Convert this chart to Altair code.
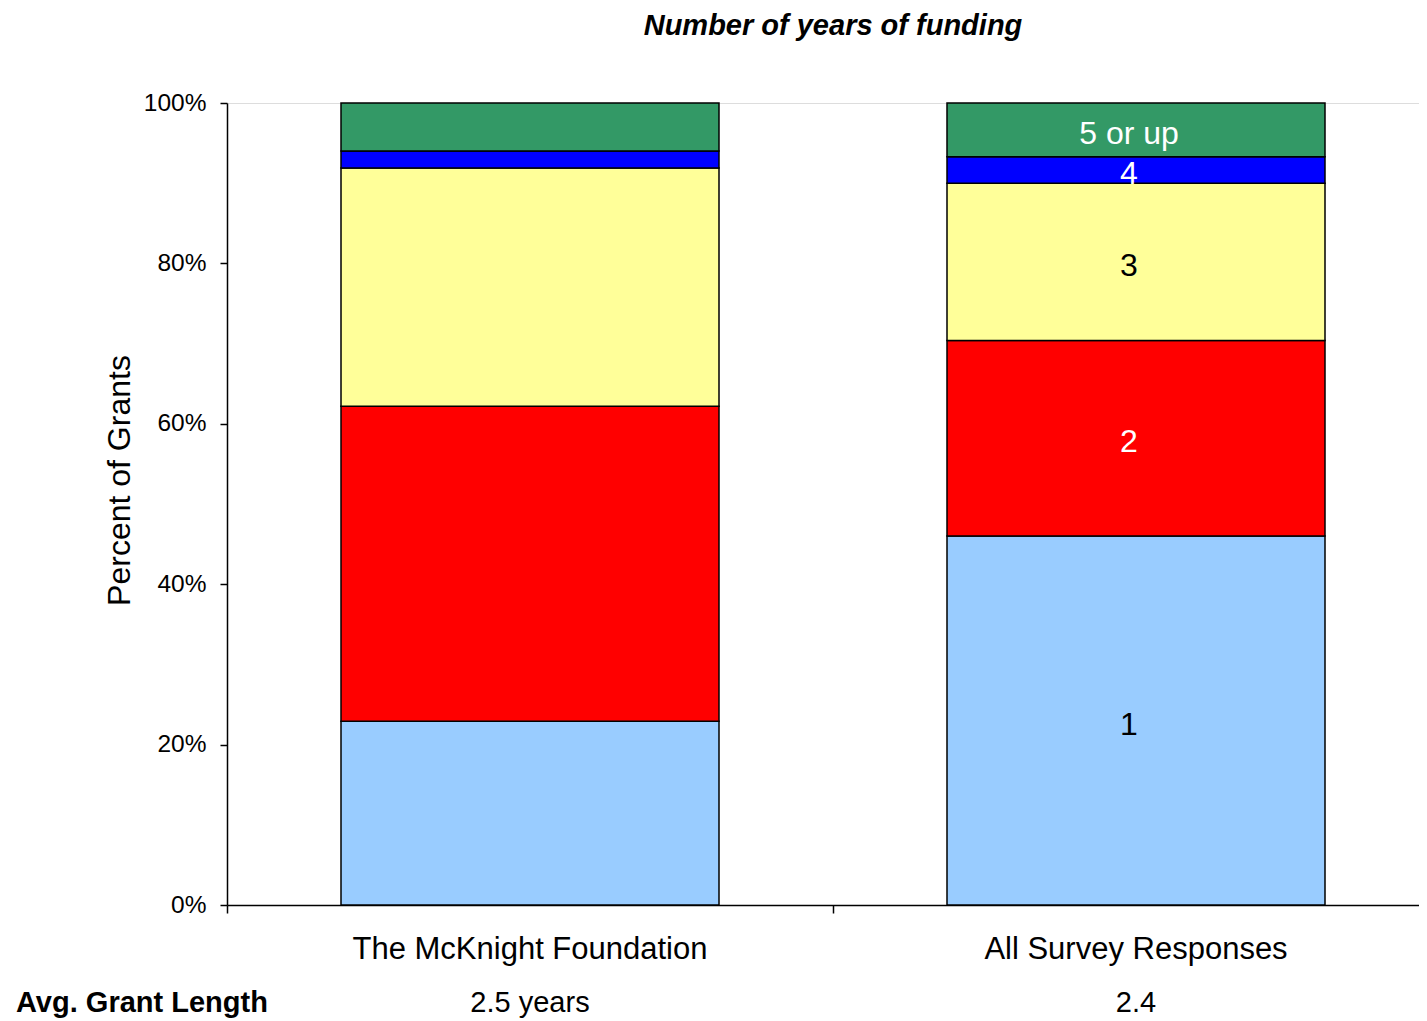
import altair as alt
import pandas as pd

categories = ["The McKnight Foundation", "All Survey Responses"]
series = ["1", "2", "3", "4", "5 or up"]
mcknight = [22.9, 39.3, 29.7, 2.1, 6.0]
all_survey = [46.0, 24.4, 19.6, 3.3, 6.7]
colors = ["#99CCFF", "#FF0000", "#FFFF99", "#0000FF", "#339966"]
label_colors = ["black", "white", "black", "white", "white"]
avg_lengths = ["2.5 years", "2.4"]
row_label = "Avg. Grant Length"

rows = []
for cat, vals in zip(categories, [mcknight, all_survey]):
    lo = 0.0
    for i, (s, v) in enumerate(zip(series, vals)):
        rows.append({"cat": cat, "series": s, "idx": i, "lo": lo, "hi": lo + v,
                     "mid": lo + v / 2, "lcolor": label_colors[i]})
        lo += v
df = pd.DataFrame(rows)

W, H = 1192, 802
FONT = "Liberation Sans"

xscale = alt.Scale(domain=categories, range=[0, 1212], paddingInner=0, paddingOuter=0)

bars = alt.Chart(df).mark_bar(size=378, stroke="black", strokeWidth=1.5).encode(
    x=alt.X("cat:N", sort=categories, scale=xscale,
            axis=alt.Axis(title=None, labels=False, ticks=True, tickSize=8, bandPosition=0,
                          domainColor="black", domainWidth=1.5, tickColor="black", tickWidth=1.5,
                          grid=False)),
    y=alt.Y("lo:Q", scale=alt.Scale(domain=[0, 100], nice=False),
            axis=alt.Axis(title="Percent of Grants", values=[0, 20, 40, 60, 80, 100],
                          labelExpr="datum.value + '%'", tickSize=7, tickColor="black",
                          tickWidth=1.5, domainColor="black", domainWidth=1.5,
                          labelFontSize=24.5, labelColor="black", labelFont=FONT,
                          labelPadding=14, titleFontSize=32, titleFont=FONT,
                          titleFontWeight="normal", titleColor="black", titlePadding=7,
                          titleY=H / 2 - 24, grid=False)),
    y2="hi:Q",
    color=alt.Color("series:N", scale=alt.Scale(domain=series, range=colors), legend=None),
)

seg_labels = alt.Chart(df[df["cat"] == categories[1]]).mark_text(
    fontSize=32, font=FONT, baseline="middle", align="center", dx=-7, dy=4
).encode(
    x=alt.X("cat:N", sort=categories, scale=xscale),
    y=alt.Y("mid:Q"),
    text="series:N",
    color=alt.Color("lcolor:N", scale=None),
)

cat_df = pd.DataFrame({"cat": categories, "avg": avg_lengths})
cat_labels = alt.Chart(cat_df).mark_text(
    fontSize=31, font=FONT, baseline="middle", align="center", color="black"
).encode(
    x=alt.X("cat:N", sort=categories, scale=xscale),
    y=alt.value(H + 45),
    text="cat:N",
)
avg_labels = alt.Chart(cat_df).mark_text(
    fontSize=29, font=FONT, baseline="middle", align="center", color="black"
).encode(
    x=alt.X("cat:N", sort=categories, scale=xscale),
    y=alt.value(H + 98),
    text="avg:N",
)
row_df = pd.DataFrame({"t": [row_label]})
row_text = alt.Chart(row_df).mark_text(
    fontSize=29, font=FONT, fontWeight="bold", baseline="middle", align="left", color="black"
).encode(
    x=alt.value(-211),
    y=alt.value(H + 98),
    text="t:N",
)

chart = alt.layer(bars, seg_labels, cat_labels, avg_labels, row_text).properties(
    width=W, height=H,
    title=alt.TitleParams("Number of years of funding", fontSize=29, font=FONT,
                          fontStyle="italic", fontWeight="bold", color="black",
                          anchor="middle", offset=49, dx=10),
    autosize=alt.AutoSizeParams(type="none"),
    padding={"left": 219, "top": 95, "right": 0, "bottom": 118},
).configure_view(stroke=None).configure(background="white")

chart.save("out.html", embed_options={"renderer": "svg", "actions": False})
